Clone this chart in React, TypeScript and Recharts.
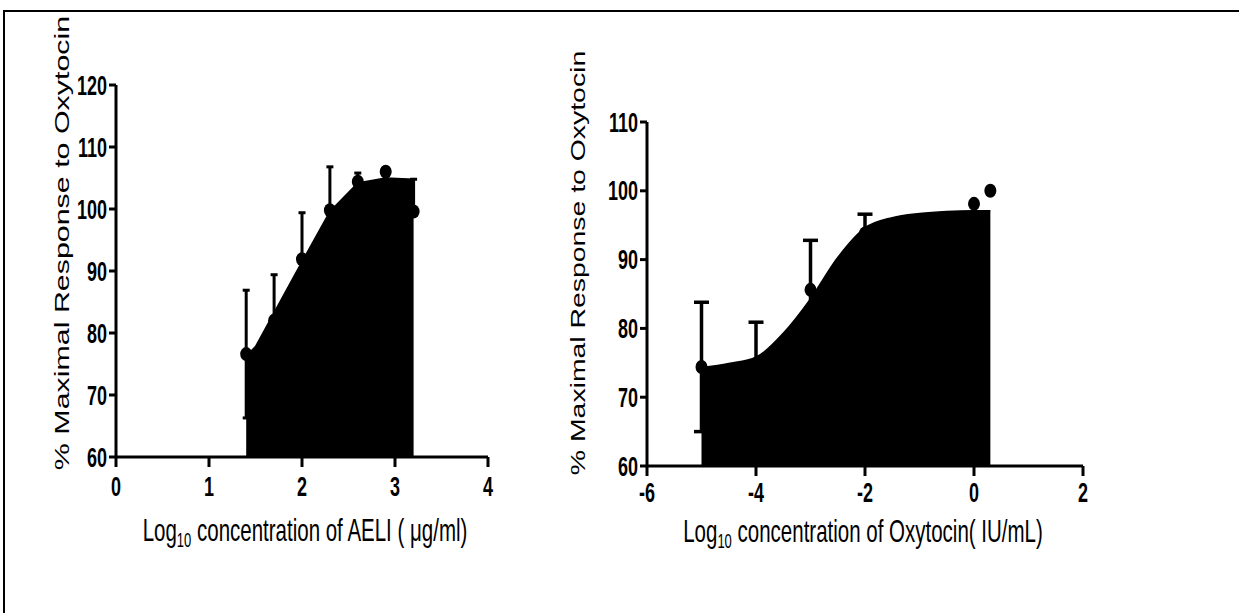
import React from 'react';
import { ComposedChart, Area, Scatter, ErrorBar, XAxis, YAxis, Label } from 'recharts';

const FONT = '"Liberation Sans", Arial, Helvetica, sans-serif';

// Left panel: AELI
const aeliDoseLog = [1.4, 1.7, 2.0, 2.3, 2.6, 2.9, 3.2];
const aeliMean = [76.6, 82.0, 91.9, 99.8, 104.4, 106.0, 99.6];
const aeliSemLow = [10.3, 7.4, 7.5, 7.0, 1.4, 0, 0];
const aeliSemHigh = [10.3, 7.4, 7.5, 7.0, 1.4, 0, 5.2];
const aeliFitX = [1.4, 1.5, 1.7, 2.0, 2.3, 2.6, 2.9, 3.2];
const aeliFitY = [76.3, 77.8, 83.3, 91.5, 99.6, 104.2, 105.0, 104.8];
const aeliXTicks = [0, 1, 2, 3, 4];
const aeliYTicks = [60, 70, 80, 90, 100, 110, 120];

// Right panel: Oxytocin
const oxyDoseLog = [-5, -4, -3, -2, 0, 0.3];
const oxyMean = [74.4, 74.8, 85.6, 93.8, 98.1, 100.0];
const oxySem = [9.4, 6.1, 7.2, 2.8, 0, 0];
const oxyFitX = [-5, -4.5, -4, -3.5, -3, -2.5, -2, -1.5, -1, -0.5, 0, 0.3];
const oxyFitY = [74.3, 74.9, 75.8, 79.3, 84.3, 90.3, 94.6, 96.1, 96.7, 97.0, 97.1, 97.1];
const oxyXTicks = [-6, -4, -2, 0, 2];
const oxyYTicks = [60, 70, 80, 90, 100, 110];

const yTitle = '% Maximal Response to Oxytocin';

const aeliFit = aeliFitX.map((x, i) => ({ x, fit: aeliFitY[i] }));
const aeliPts = aeliDoseLog.map((x, i) => ({ x, y: aeliMean[i], err: [aeliSemLow[i], aeliSemHigh[i]] }));
const oxyFit = oxyFitX.map((x, i) => ({ x, fit: oxyFitY[i] }));
const oxyPts = oxyDoseLog.map((x, i) => ({ x, y: oxyMean[i], err: oxySem[i] }));

const makeXTick = (off: number) => (props: any) => {
  const { x, y, payload } = props;
  return (
    <g transform={`translate(${x},${y + off}) scale(1,1.5)`}>
      <text x={0} y={0} textAnchor="middle" fontFamily={FONT} fontWeight="bold" fontSize={18} fill="#000">
        {payload.value}
      </text>
    </g>
  );
};

const YTick = (props: any) => {
  const { x, y, payload } = props;
  return (
    <g transform={`translate(${x},${y}) scale(1,1.5)`}>
      <text x={0} y={6.4} textAnchor="end" fontFamily={FONT} fontWeight="bold" fontSize={18} fill="#000">
        {payload.value}
      </text>
    </g>
  );
};

const makeYTitle = (dx: number, dyCenter: number, stretch: number) => (props: any) => {
  const vb = props.viewBox || { x: 0, y: 0, width: 0, height: 0 };
  const cx = vb.x + dx;
  const cy = vb.y + vb.height / 2 + dyCenter;
  return (
    <text
      transform={`translate(${cx},${cy}) rotate(-90) scale(${stretch},1)`}
      textAnchor="middle"
      fontFamily={FONT}
      fontSize={20}
      fill="#000"
    >
      {yTitle}
    </text>
  );
};

const makeXTitle = (rest: string, dx: number, dy: number) => (props: any) => {
  const vb = props.viewBox || { x: 0, y: 0, width: 0, height: 0 };
  const cx = vb.x + vb.width / 2 + dx;
  const cy = vb.y + dy;
  return (
    <g transform={`translate(${cx},${cy}) scale(1,1.5)`}>
      <text x={0} y={0} textAnchor="middle" fontFamily={FONT} fontSize={20.5} fill="#000">
        Log
        <tspan fontSize={13} dy={4}>10</tspan>
        <tspan dy={-4}>{rest}</tspan>
      </text>
    </g>
  );
};

const Dot = (p: any) => <ellipse cx={p.cx} cy={p.cy} rx={6} ry={7} fill="#000" />;

const axisStyle = { stroke: '#000', strokeWidth: 3 };

export default function App() {
  const LeftXTick = makeXTick(27);
  const RightXTick = makeXTick(24);
  return (
    <div style={{ position: 'absolute', left: 0, top: 0, width: 1239, height: 613, background: '#fff', overflow: 'hidden' }}>
      <div
        style={{
          position: 'absolute',
          left: 3,
          top: 10,
          width: 1300,
          height: 700,
          borderTop: '2px solid #000',
          borderLeft: '2px solid #000',
        }}
      />
      <div style={{ position: 'absolute', left: 0, top: 0 }}>
        <ComposedChart
          width={520}
          height={613}
          data={aeliFit}
          margin={{ top: 85, right: 32, bottom: 116, left: 0 }}
        >
          <XAxis
            dataKey="x"
            type="number"
            domain={[0, 4]}
            ticks={aeliXTicks}
            interval={0}
            allowDataOverflow
            height={40}
            tickSize={10}
            tickMargin={2}
            axisLine={axisStyle}
            tickLine={axisStyle}
            tick={<LeftXTick />}
          >
            <Label content={makeXTitle(' concentration of AELI ( \u03bcg/ml)', 3, 84)} />
          </XAxis>
          <YAxis
            type="number"
            domain={[60, 120]}
            ticks={aeliYTicks}
            interval={0}
            allowDataOverflow
            width={116}
            tickSize={7}
            tickMargin={2}
            axisLine={axisStyle}
            tickLine={axisStyle}
            tick={<YTick />}
          >
            <Label content={makeYTitle(69, -28, 1.52)} />
          </YAxis>
          <Scatter data={aeliPts} dataKey="y" shape={<Dot />} isAnimationActive={false}>
            <ErrorBar dataKey="err" direction="y" width={3.5} stroke="#000" strokeWidth={3} isAnimationActive={false} />
          </Scatter>
          <Area
            type="linear"
            dataKey="fit"
            stroke="#000"
            strokeWidth={1.5}
            fill="#000"
            fillOpacity={1}
            baseValue="dataMin"
            dot={false}
            activeDot={false}
            isAnimationActive={false}
          />
        </ComposedChart>
      </div>
      <div style={{ position: 'absolute', left: 520, top: 0 }}>
        <ComposedChart
          width={600}
          height={613}
          data={oxyFit}
          margin={{ top: 122, right: 37, bottom: 107, left: 0 }}
        >
          <XAxis
            dataKey="x"
            type="number"
            domain={[-6, 2]}
            ticks={oxyXTicks}
            interval={0}
            allowDataOverflow
            height={40}
            tickSize={10}
            tickMargin={2}
            axisLine={axisStyle}
            tickLine={axisStyle}
            tick={<RightXTick />}
          >
            <Label content={makeXTitle(' concentration of Oxytocin( IU/mL)', -2, 76)} />
          </XAxis>
          <YAxis
            type="number"
            domain={[60, 110]}
            ticks={oxyYTicks}
            interval={0}
            allowDataOverflow
            width={127}
            tickSize={7}
            tickMargin={2}
            axisLine={axisStyle}
            tickLine={axisStyle}
            tick={<YTick />}
          >
            <Label content={makeYTitle(65, -31, 1.42)} />
          </YAxis>
          <Scatter data={oxyPts} dataKey="y" shape={<Dot />} isAnimationActive={false}>
            <ErrorBar dataKey="err" direction="y" width={7.5} stroke="#000" strokeWidth={3.5} isAnimationActive={false} />
          </Scatter>
          <Area
            type="monotone"
            dataKey="fit"
            stroke="#000"
            strokeWidth={1.5}
            fill="#000"
            fillOpacity={1}
            baseValue="dataMin"
            dot={false}
            activeDot={false}
            isAnimationActive={false}
          />
        </ComposedChart>
      </div>
    </div>
  );
}
